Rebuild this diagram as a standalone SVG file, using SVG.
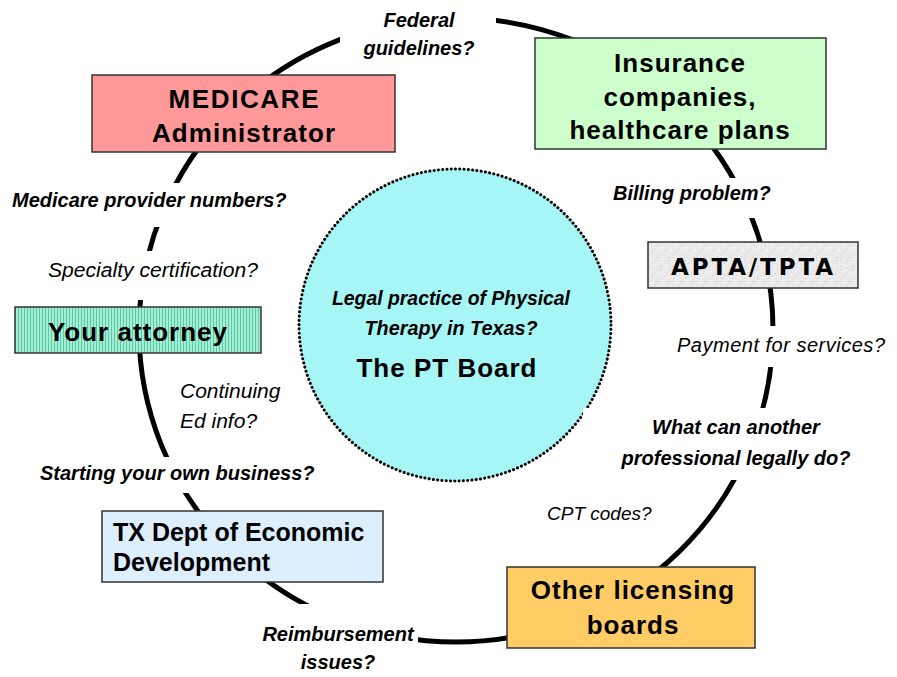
<svg xmlns="http://www.w3.org/2000/svg" width="897" height="677" viewBox="0 0 897 677">
<defs>
<style>
.box{stroke:#333;stroke-width:1.5}
.bt{font-family:"Liberation Sans",Arial,sans-serif;font-weight:bold;font-size:26px;letter-spacing:1px;fill:#000}
.lb{font-family:"Liberation Sans",Arial,sans-serif;font-weight:bold;font-style:italic;font-size:20px;fill:#000}
.li{font-family:"Liberation Sans",Arial,sans-serif;font-style:italic;font-size:20px;fill:#000}
.bg{fill:#fff}
</style>
<pattern id="stripes" width="3" height="6" patternUnits="userSpaceOnUse">
<rect width="3" height="6" fill="#A4EED6"/>
<rect width="1" height="6" fill="#5EC9A6"/>
</pattern>
<pattern id="speck" width="12" height="12" patternUnits="userSpaceOnUse">
<rect width="12" height="12" fill="#EAEAEA"/>
<rect x="1" y="2" width="1" height="1" fill="#C8C8C8"/>
<rect x="6" y="1" width="1" height="1" fill="#FFFFFF"/>
<rect x="9" y="5" width="1" height="1" fill="#C4C4C4"/>
<rect x="3" y="7" width="1" height="1" fill="#FFFFFF"/>
<rect x="7" y="9" width="1" height="1" fill="#CFCFCF"/>
<rect x="11" y="10" width="1" height="1" fill="#FFFFFF"/>
<rect x="4" y="11" width="1" height="1" fill="#D0D0D0"/>
<rect x="0" y="5" width="1" height="1" fill="#D6D6D6"/>
</pattern>
</defs>
<rect width="897" height="677" fill="#fff"/>

<g id="connectors">
<ellipse cx="456" cy="330" rx="317" ry="312" fill="none" stroke="#000" stroke-width="5"/>
</g>

<g id="pt-board">
<circle cx="455" cy="325" r="156" fill="#A6F6F6" stroke="#000" stroke-width="3" stroke-dasharray="0.1 4.2" stroke-linecap="round"/>
<text class="lb" x="451" y="305" text-anchor="middle" textLength="238" lengthAdjust="spacingAndGlyphs">Legal practice of Physical</text>
<text class="lb" x="451" y="335" text-anchor="middle" textLength="173" lengthAdjust="spacingAndGlyphs">Therapy in Texas?</text>
<text class="bt" x="447" y="377" text-anchor="middle" style="font-size:26px">The PT Board</text>
</g>

<g id="label-federal">
<rect class="bg" x="340" y="0" width="156" height="68"/>
<text class="lb" x="419" y="27" text-anchor="middle">Federal</text>
<text class="lb" x="419" y="55" text-anchor="middle">guidelines?</text>
</g>

<g id="label-medicare-numbers">
<rect class="bg" x="8" y="183" width="288" height="44"/>
<text class="lb" x="12" y="207">Medicare provider numbers?</text>
</g>

<g id="label-specialty">
<rect class="bg" x="44" y="251" width="220" height="49"/>
<text class="li" x="48" y="277" textLength="210" lengthAdjust="spacingAndGlyphs">Specialty certification?</text>
</g>

<g id="label-continuing">
<text class="li" x="180" y="398" style="font-size:21px">Continuing</text>
<text class="li" x="180" y="428" style="font-size:21px">Ed info?</text>
</g>

<g id="label-business">
<rect class="bg" x="36" y="457" width="284" height="36"/>
<text class="lb" x="40" y="480">Starting your own business?</text>
</g>

<g id="label-reimbursement">
<rect class="bg" x="258" y="604" width="160" height="73"/>
<text class="lb" x="338" y="641" text-anchor="middle">Reimbursement</text>
<text class="lb" x="338" y="669" text-anchor="middle">issues?</text>
</g>

<g id="label-cpt">
<text class="li" x="547" y="520" style="font-size:19px">CPT codes?</text>
</g>

<g id="label-another">
<rect class="bg" x="583" y="408" width="272" height="72"/>
<text class="lb" x="736" y="434" text-anchor="middle">What can another</text>
<text class="lb" x="736" y="465" text-anchor="middle">professional legally do?</text>
</g>

<g id="label-payment">
<rect class="bg" x="672" y="326" width="220" height="41"/>
<text class="li" x="677" y="352" textLength="208" lengthAdjust="spacing">Payment for services?</text>
</g>

<g id="label-billing">
<rect class="bg" x="608" y="178" width="170" height="40"/>
<text class="lb" x="613" y="200">Billing problem?</text>
</g>

<g id="medicare">
<rect class="box" x="92" y="75" width="303" height="77" fill="#FF9999"/>
<text class="bt" x="244" y="108" text-anchor="middle" textLength="151" lengthAdjust="spacing">MEDICARE</text>
<text class="bt" x="244" y="142" text-anchor="middle" textLength="184" lengthAdjust="spacing">Administrator</text>
</g>

<g id="insurance">
<rect class="box" x="535" y="38" width="291" height="111" fill="#CCFFCC"/>
<text class="bt" x="680" y="72" text-anchor="middle">Insurance</text>
<text class="bt" x="680" y="106" text-anchor="middle">companies,</text>
<text class="bt" x="680" y="139" text-anchor="middle">healthcare plans</text>
</g>

<g id="apta">
<rect class="box" x="648" y="242" width="210" height="46" fill="url(#speck)"/>
<text x="752" y="275" text-anchor="middle" textLength="162" lengthAdjust="spacing" style="font-family:'DejaVu Sans',sans-serif;font-weight:bold;font-size:23px;fill:#000">APTA/TPTA</text>
</g>

<g id="attorney">
<rect class="box" x="15" y="307" width="246" height="46" fill="url(#stripes)"/>
<text class="bt" x="138" y="341" text-anchor="middle">Your attorney</text>
</g>

<g id="txdept">
<rect class="box" x="102" y="511" width="281" height="71" fill="#DDEEFC"/>
<text class="bt" x="113" y="541" style="font-size:25px;letter-spacing:0">TX Dept of Economic</text>
<text class="bt" x="113" y="571" style="font-size:25px;letter-spacing:0">Development</text>
</g>

<g id="other-boards">
<rect class="box" x="507" y="567" width="248" height="81" fill="#FFCC66"/>
<text class="bt" x="633" y="599" text-anchor="middle">Other licensing</text>
<text class="bt" x="633" y="634" text-anchor="middle">boards</text>
</g>
</svg>
